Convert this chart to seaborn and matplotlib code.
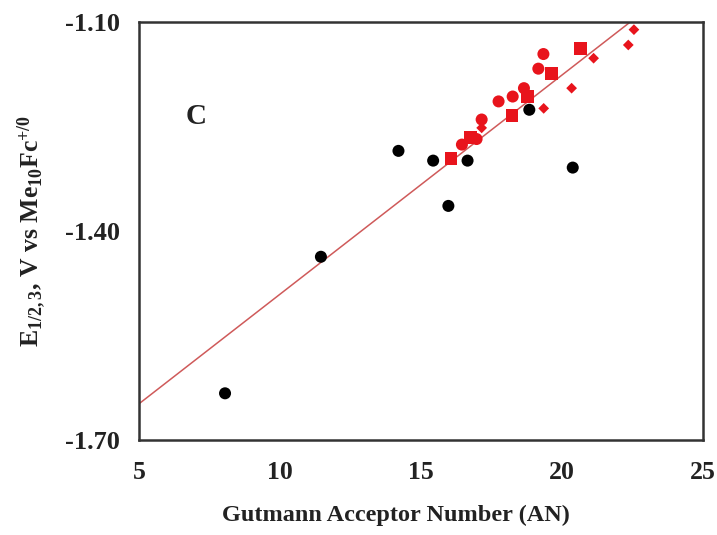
import numpy as np
import pandas as pd
import matplotlib
matplotlib.use("Agg")
import matplotlib.pyplot as plt
import seaborn as sns
from matplotlib.ticker import MultipleLocator, FormatStrFormatter

# ---- data ----
black_an = [8.05, 11.45, 14.2, 15.43, 16.65, 15.97, 18.84, 20.38]
black_e = [-1.633, -1.437, -1.285, -1.299, -1.299, -1.364, -1.226, -1.309]

sq_an = [16.07, 16.75, 18.22, 18.77, 19.63, 20.66]
sq_e = [-1.296, -1.266, -1.234, -1.207, -1.174, -1.138]

circ_an = [16.45, 16.97, 17.15, 17.75, 18.25, 18.65, 19.16, 19.34]
circ_e = [-1.276, -1.268, -1.240, -1.214, -1.207, -1.195, -1.167, -1.146]

dia_an = [17.15, 19.35, 20.34, 21.12, 22.35, 22.55]
dia_e = [-1.252, -1.224, -1.195, -1.152, -1.133, -1.111]

fit_an = [5.0, 22.42]
fit_e = [-1.648, -1.10]

x_ticks = [5, 10, 15, 20, 25]
y_ticks = [-1.70, -1.40, -1.10]

sns.set_theme(style="white")
plt.rcParams['font.family'] = ['Liberation Serif', 'DejaVu Serif']
plt.rcParams['font.weight'] = 'bold'
plt.rcParams['mathtext.fontset'] = 'custom'
plt.rcParams['mathtext.rm'] = 'Liberation Serif:bold'
plt.rcParams['mathtext.it'] = 'Liberation Serif:bold'
plt.rcParams['mathtext.bf'] = 'Liberation Serif:bold'
plt.rcParams['mathtext.default'] = 'rm'

fig = plt.figure(figsize=(7.17, 5.35), dpi=100)
ax = fig.add_axes([0.1939, 0.1776, 0.7866, 0.7813])

red = '#e8141c'
line_df = pd.DataFrame({'AN': fit_an, 'E': fit_e})
sns.lineplot(data=line_df, x='AN', y='E', ax=ax, color='#cf5a5a', lw=1.1, zorder=1)

df_b = pd.DataFrame({'AN': black_an, 'E': black_e})
df_s = pd.DataFrame({'AN': sq_an, 'E': sq_e})
df_c = pd.DataFrame({'AN': circ_an, 'E': circ_e})
df_d = pd.DataFrame({'AN': dia_an, 'E': dia_e})

sns.scatterplot(data=df_b, x='AN', y='E', ax=ax, color='black', marker='o', s=75, edgecolor='none', zorder=3)
sns.scatterplot(data=df_c, x='AN', y='E', ax=ax, color=red, marker='o', s=75, edgecolor='none', zorder=3)
sns.scatterplot(data=df_s, x='AN', y='E', ax=ax, color=red, marker='s', s=80, edgecolor='none', zorder=3)
sns.scatterplot(data=df_d, x='AN', y='E', ax=ax, color=red, marker='D', s=30, edgecolor='none', zorder=3)

ax.set_xlim(5, 25)
ax.set_ylim(-1.70, -1.10)
ax.set_xticks(x_ticks)
ax.set_yticks(y_ticks)
ax.xaxis.set_minor_locator(MultipleLocator(2.5))
ax.yaxis.set_minor_locator(MultipleLocator(0.15))
ax.yaxis.set_major_formatter(FormatStrFormatter('%.2f'))
ax.tick_params(which='both', direction='in', color='#222222', width=1.3)
ax.tick_params(which='major', length=6)
ax.tick_params(which='minor', length=5)
ax.tick_params(axis='x', which='major', pad=15, labelsize=18.5)
ax.tick_params(axis='y', which='major', pad=14, labelsize=19)
for t in ax.get_xticklabels() + ax.get_yticklabels():
    t.set_fontweight('bold')
    t.set_color('#222222')

for sp in ax.spines.values():
    sp.set_visible(True)
    sp.set_color('#333333')
    sp.set_linewidth(1.8)

ax.set_xlabel('Gutmann Acceptor Number (AN)', fontsize=17.5, fontweight='bold', color='#222222')
ax.xaxis.set_label_coords(0.456, -0.155)
ax.set_ylabel(r'E$_{1/2,3}$, V vs Me$_{10}$Fc$^{+/0}$', fontsize=18.5, fontweight='bold', labelpad=12, color='#222222')
ax.text(0.082, 0.755, 'C', transform=ax.transAxes, fontsize=21, fontweight='bold', color='#222222')

fig.savefig('out.png', dpi=100)
